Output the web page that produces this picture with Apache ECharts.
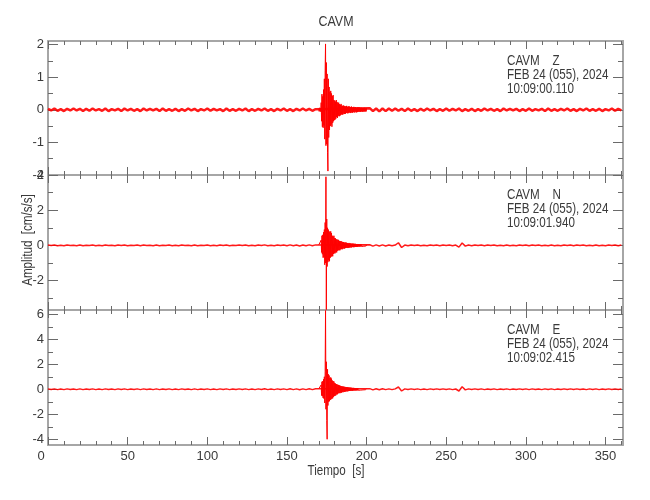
<!DOCTYPE html>
<html>
<head>
<meta charset="utf-8">
<script src="https://cdn.jsdelivr.net/npm/echarts@6/dist/echarts.min.js"></script>
<style>html,body{margin:0;padding:0;background:#fff}#c{width:650px;height:500px}</style>
</head>
<body>
<div id="c"></div>
<script>
// ---------------- data ----------------
const chartTitle = "CAVM";
const xTitle = "Tiempo  [s]";
const yTitle = "Amplitud  [cm/s/s]";
const annotZ = ["CAVM    Z", "FEB 24 (055), 2024", "10:09:00.110"];
const annotN = ["CAVM    N", "FEB 24 (055), 2024", "10:09:01.940"];
const annotE = ["CAVM    E", "FEB 24 (055), 2024", "10:09:02.415"];

const X_MIN = 0, X_MAX = 361;
const xMajor = [0, 50, 100, 150, 200, 250, 300, 350];
const xMinor = [10,20,30,40,60,70,80,90,110,120,130,140,160,170,180,190,210,220,230,240,260,270,280,290,310,320,330,340,360];

const zRange = [-2, 2.11], nRange = [-3.67, 4], eRange = [-4.46, 6.34];
const zMajor = [-2, -1, 0, 1, 2], zMinor = [-1.5, -0.5, 0.5, 1.5];
const nMajor = [-2, 0, 2, 4], nMinor = [-3, -1, 1, 3];
const eMajor = [-4, -2, 0, 2, 4, 6], eMinor = [-3, -1, 1, 3, 5];

// sampling of the hand-read traces
const NOISE_DT = 2;      // pre: t = 0..168, post: t = 202..360
const POST_T0 = 202;
const BURST_T0 = 170;    // burst: t = 170..200
const BURST_DT = 0.25;

// Z component
const zPre = [0.03,-0.02,0.04,-0.03,0.02,-0.04,0.03,-0.02,0.04,-0.02,
0.03,-0.04,0.03,-0.03,0.04,-0.02,0.02,-0.03,0.04,-0.04,
0.02,-0.02,0.03,-0.04,0.04,-0.02,0.03,-0.03,0.02,-0.04,
0.04,-0.02,0.03,-0.02,0.03,-0.04,0.04,-0.03,0.02,-0.03,
0.03,-0.04,0.02,-0.03,0.04,-0.02,0.03,-0.04,0.02,-0.02,
0.04,-0.03,0.03,-0.02,0.02,-0.04,0.04,-0.03,0.02,-0.03,
0.03,-0.02,0.04,-0.04,0.02,-0.03,0.03,-0.02,0.04,-0.03,
0.02,-0.04,0.03,-0.02,0.04,-0.03,0.02,-0.04,0.03,-0.02,
0.04,-0.02,0.03,-0.03,0.02];
const zBurst = [0.04,-0.05,0.06,-0.04,0.05,-0.06,0.22,-0.35,0.48,-0.52,
0.41,-0.55,0.62,-0.48,0.95,-0.9,1.2,2.02,-1.1,1.45,
-1.05,1.1,-1.3,-1.88,0.95,-0.85,0.7,-0.62,0.55,-0.5,
0.58,-0.45,0.5,-0.52,0.42,-0.4,0.45,-0.35,0.3,-0.32,
0.28,-0.3,0.25,-0.27,0.3,-0.22,0.24,-0.25,0.2,-0.18,
0.22,-0.2,0.17,-0.19,0.15,-0.16,0.18,-0.14,0.13,-0.15,
0.12,-0.14,0.13,-0.11,0.12,-0.13,0.1,-0.12,0.11,-0.1,
0.12,-0.1,0.09,-0.11,0.1,-0.09,0.11,-0.08,0.09,-0.1,
0.08,-0.09,0.1,-0.08,0.07,-0.09,0.08,-0.07,0.09,-0.08,
0.07,-0.08,0.08,-0.06,0.07,-0.08,0.06,-0.07,0.08,-0.06,
0.07,-0.06,0.07,-0.06,0.06,-0.06,0.06,-0.05,0.06,-0.06,
0.05,-0.06,0.05,-0.05,0.06,-0.05,0.05,-0.05,0.04,-0.05,
0.05];
const zPost = [0.05,-0.04,0.04,-0.05,0.04,-0.04,0.04,-0.03,0.04,-0.03,
0.03,-0.04,0.04,-0.03,0.02,-0.04,0.03,-0.03,0.04,-0.02,
0.03,-0.04,0.02,-0.03,0.04,-0.03,0.03,-0.02,0.04,-0.04,
0.02,-0.03,0.03,-0.04,0.02,-0.03,0.04,-0.02,0.03,-0.03,
0.02,-0.04,0.04,-0.02,0.03,-0.02,0.03,-0.04,0.02,-0.03,
0.04,-0.03,0.02,-0.02,0.03,-0.04,0.04,-0.03,0.02,-0.03,
0.03,-0.02,0.04,-0.03,0.02,-0.04,0.03,-0.02,0.04,-0.03,
0.02,-0.03,0.03,-0.04,0.02,-0.02,0.04,-0.03,0.03,-0.02];

// N component
const nPre = [0.02,-0.01,0.02,-0.02,0.01,-0.02,0.02,-0.01,0.01,-0.02,
0.02,-0.02,0.01,-0.01,0.02,-0.02,0.01,-0.02,0.02,-0.01,
0.01,-0.02,0.02,-0.01,0.02,-0.02,0.01,-0.01,0.02,-0.02,
0.02,-0.01,0.01,-0.02,0.02,-0.02,0.01,-0.01,0.02,-0.02,
0.01,-0.02,0.02,-0.01,0.01,-0.02,0.02,-0.02,0.01,-0.01,
0.02,-0.02,0.01,-0.02,0.02,-0.01,0.02,-0.02,0.01,-0.01,
0.02,-0.01,0.02,-0.02,0.01,-0.02,0.02,-0.01,0.03,-0.02,
0.01,-0.02,0.02,-0.01,0.02,-0.02,0.03,-0.02,0.02,-0.03,
0.02,-0.02,0.03,-0.02,0.03];
const nBurst = [0.03,-0.03,0.04,-0.03,0.03,-0.04,0.3,-0.4,0.55,-0.5,
0.6,-0.7,0.75,-0.65,0.9,-1.1,1.3,-1.0,3.9,-3.65,
1.5,-1.2,1.0,-0.95,0.9,-0.85,0.8,-0.9,0.75,-0.7,
0.8,-0.65,0.7,-0.6,0.55,-0.62,0.5,-0.48,0.55,-0.45,
0.42,-0.45,0.4,-0.38,0.35,-0.4,0.32,-0.3,0.33,-0.28,
0.3,-0.27,0.25,-0.28,0.24,-0.22,0.25,-0.21,0.2,-0.22,
0.2,-0.18,0.19,-0.17,0.16,-0.18,0.17,-0.15,0.16,-0.14,
0.15,-0.14,0.13,-0.15,0.12,-0.13,0.14,-0.12,0.12,-0.11,
0.11,-0.12,0.1,-0.11,0.1,-0.09,0.11,-0.1,0.09,-0.1,
0.09,-0.08,0.09,-0.09,0.08,-0.08,0.07,-0.08,0.08,-0.07,
0.07,-0.07,0.06,-0.07,0.06,-0.06,0.07,-0.06,0.05,-0.06,
0.05,-0.05,0.04,-0.05,0.04,-0.04,0.04,-0.03,0.04,-0.03,
0.03];
const nPost = [0.04,-0.04,0.03,-0.03,0.03,-0.03,0.02,-0.02,0.02,0.15,
-0.12,0.02,-0.02,0.02,-0.01,0.02,-0.02,0.01,-0.02,0.02,
-0.01,0.02,-0.02,0.02,-0.01,0.02,-0.02,0.02,-0.1,0.14,
-0.04,0.02,-0.02,0.02,-0.01,0.02,-0.02,0.02,-0.01,0.02,
-0.02,0.01,-0.02,0.02,-0.02,0.01,-0.02,0.02,-0.01,0.02,
-0.02,0.02,-0.01,0.02,-0.02,0.01,-0.02,0.02,-0.02,0.01,
-0.02,0.02,-0.01,0.02,-0.02,0.02,-0.01,0.02,-0.02,0.01,
-0.02,0.02,-0.02,0.01,-0.02,0.02,-0.01,0.02,-0.02,0.02];

// E component
const ePre = [0.03,-0.02,0.03,-0.03,0.02,-0.03,0.03,-0.02,0.02,-0.03,
0.03,-0.03,0.02,-0.02,0.03,-0.03,0.02,-0.03,0.03,-0.02,
0.02,-0.03,0.03,-0.02,0.03,-0.03,0.02,-0.02,0.03,-0.03,
0.03,-0.02,0.02,-0.03,0.03,-0.03,0.02,-0.02,0.03,-0.03,
0.02,-0.03,0.03,-0.02,0.02,-0.03,0.03,-0.03,0.02,-0.02,
0.03,-0.03,0.02,-0.03,0.03,-0.02,0.03,-0.03,0.02,-0.02,
0.03,-0.02,0.03,-0.03,0.02,-0.03,0.03,-0.02,0.04,-0.03,
0.02,-0.03,0.03,-0.02,0.03,-0.03,0.04,-0.03,0.03,-0.04,
0.03,-0.03,0.04,-0.03,0.04];
const eBurst = [0.04,-0.04,0.05,-0.04,0.04,-0.05,0.35,-0.5,0.6,-0.55,
0.65,-0.7,0.8,-0.75,1.0,-1.1,1.4,6.3,-1.6,2.2,
-2.5,-4.0,1.6,-1.3,1.2,-1.0,1.1,-0.95,0.9,-0.85,
0.95,-0.8,0.85,-0.75,0.7,-0.72,0.65,-0.6,0.62,-0.55,
0.5,-0.52,0.45,-0.48,0.42,-0.4,0.38,-0.4,0.36,-0.33,
0.34,-0.3,0.3,-0.32,0.28,-0.27,0.26,-0.27,0.24,-0.23,
0.22,-0.24,0.21,-0.2,0.2,-0.21,0.19,-0.18,0.18,-0.17,
0.17,-0.16,0.16,-0.17,0.15,-0.14,0.15,-0.14,0.13,-0.14,
0.13,-0.12,0.12,-0.13,0.11,-0.12,0.11,-0.1,0.11,-0.1,
0.1,-0.1,0.09,-0.1,0.09,-0.09,0.08,-0.09,0.09,-0.08,
0.08,-0.08,0.07,-0.08,0.07,-0.07,0.07,-0.06,0.06,-0.06,
0.06,-0.05,0.05,-0.05,0.05,-0.04,0.05,-0.04,0.04,-0.04,
0.04];
const ePost = [0.05,-0.05,0.04,-0.04,0.04,-0.03,0.03,-0.03,0.03,0.18,
-0.14,0.03,-0.02,0.03,-0.02,0.03,-0.03,0.02,-0.03,0.03,
-0.02,0.03,-0.02,0.03,-0.02,0.03,-0.03,0.02,-0.14,0.2,
-0.05,0.03,-0.02,0.03,-0.02,0.03,-0.03,0.02,-0.02,0.03,
-0.03,0.02,-0.02,0.03,-0.03,0.02,-0.02,0.03,-0.02,0.03,
-0.03,0.03,-0.02,0.02,-0.03,0.03,-0.02,0.03,-0.03,0.02,
-0.02,0.03,-0.02,0.03,-0.02,0.03,-0.02,0.02,-0.03,0.03,
-0.02,0.03,-0.03,0.02,-0.02,0.03,-0.02,0.03,-0.02,0.03];

// ---------------- build ----------------
function buildNoise(pre, post) {
  const d = [];
  pre.forEach((v, i) => d.push([i * NOISE_DT, v]));
  post.forEach((v, i) => d.push([POST_T0 + i * NOISE_DT, v]));
  return d;
}
function buildBurst(burst) {
  return burst.map((v, i) => [BURST_T0 + i * BURST_DT, v]);
}

const FONT = "'Liberation Sans',Arial,sans-serif";
const TXT = '#3a3a3a';
const AXIS_C = '#a6a6a6';
const TICK_C = '#6a6a6a';
const NARROW = 0.83;

const panels = [
  { noise: buildNoise(zPre, zPost), burst: buildBurst(zBurst), noiseW: 2.5, range: zRange, major: zMajor, minor: zMinor, annot: annotZ, top: 41, height: 134 },
  { noise: buildNoise(nPre, nPost), burst: buildBurst(nBurst), noiseW: 1.5, range: nRange, major: nMajor, minor: nMinor, annot: annotN, top: 175, height: 135 },
  { noise: buildNoise(ePre, ePost), burst: buildBurst(eBurst), noiseW: 1.5, range: eRange, major: eMajor, minor: eMinor, annot: annotE, top: 310, height: 135 }
];

const GRID_LEFT = 48, GRID_W = 575;
const grids = [], xAxes = [], yAxes = [], series = [], graphics = [];

function xAx(p, position, ticks, len, showLine, showLabel) {
  return {
    type: 'value', gridIndex: p, position: position, min: X_MIN, max: X_MAX,
    axisLine: { show: showLine, onZero: false, lineStyle: { color: AXIS_C, width: 2 } },
    axisTick: { show: true, inside: true, length: len, customValues: ticks, lineStyle: { color: TICK_C, width: 1 } },
    axisLabel: {
      show: showLabel, customValues: ticks, margin: 5, color: TXT, fontFamily: FONT, fontSize: 13,
      formatter: v => (v === 0 ? '{a|0}' : String(v)),
      rich: { a: { padding: [0, 14, 0, 0], color: TXT, fontFamily: FONT, fontSize: 13 } }
    },
    splitLine: { show: false }
  };
}
function yAx(p, position, ticks, len, showLine, showLabel, range) {
  return {
    type: 'value', gridIndex: p, position: position, min: range[0], max: range[1],
    axisLine: { show: showLine, onZero: false, lineStyle: { color: AXIS_C, width: 2 } },
    axisTick: { show: true, inside: true, length: len, customValues: ticks, lineStyle: { color: TICK_C, width: 1 } },
    axisLabel: { show: showLabel, customValues: ticks, margin: 4, color: TXT, fontFamily: FONT, fontSize: 13, formatter: v => String(v) },
    splitLine: { show: false }
  };
}

panels.forEach((pn, p) => {
  grids.push({ left: GRID_LEFT, top: pn.top, width: GRID_W, height: pn.height, containLabel: false });
  xAxes.push(xAx(p, 'bottom', xMajor, 8, true, p === 2));
  xAxes.push(xAx(p, 'bottom', xMinor, 4, false, false));
  xAxes.push(xAx(p, 'top', xMajor, 8, true, false));
  xAxes.push(xAx(p, 'top', xMinor, 4, false, false));
  yAxes.push(yAx(p, 'left', pn.major, 10, true, true, pn.range));
  yAxes.push(yAx(p, 'left', pn.minor, 5, false, false, pn.range));
  yAxes.push(yAx(p, 'right', pn.major, 10, true, false, pn.range));
  yAxes.push(yAx(p, 'right', pn.minor, 5, false, false, pn.range));
  series.push({
    type: 'line', xAxisIndex: p * 4, yAxisIndex: p * 4, data: pn.noise,
    showSymbol: false, symbol: 'none', sampling: null, clip: true,
    lineStyle: { color: '#ff0000', width: pn.noiseW, opacity: 0.9 }, z: 1, silent: true
  });
  series.push({
    type: 'line', xAxisIndex: p * 4, yAxisIndex: p * 4, data: pn.burst,
    showSymbol: false, symbol: 'none', sampling: null, clip: true,
    lineStyle: { color: '#ff0000', width: 1 }, z: 2, silent: true
  });
  pn.annot.forEach((t, k) => {
    graphics.push({
      type: 'text', x: 507, y: pn.top + 20 + k * 14, scaleX: NARROW,
      style: { text: t, font: '14px ' + FONT, fill: TXT, textAlign: 'left', textVerticalAlign: 'middle' }
    });
  });
});

graphics.push({ type: 'text', x: 336, y: 22, scaleX: NARROW, style: { text: chartTitle, font: '15px ' + FONT, fill: TXT, textAlign: 'center', textVerticalAlign: 'middle' } });
graphics.push({ type: 'text', x: 336, y: 471, scaleX: NARROW, style: { text: xTitle, font: '14px ' + FONT, fill: TXT, textAlign: 'center', textVerticalAlign: 'middle' } });
graphics.push({ type: 'text', x: 28, y: 240, rotation: Math.PI / 2, scaleX: NARROW, style: { text: yTitle, font: '14px ' + FONT, fill: TXT, textAlign: 'center', textVerticalAlign: 'middle' } });

const chart = echarts.init(document.getElementById('c'), null, { renderer: 'canvas' });
chart.setOption({
  animation: false,
  backgroundColor: '#ffffff',
  grid: grids, xAxis: xAxes, yAxis: yAxes, series: series, graphic: graphics
});
</script>
</body>
</html>
